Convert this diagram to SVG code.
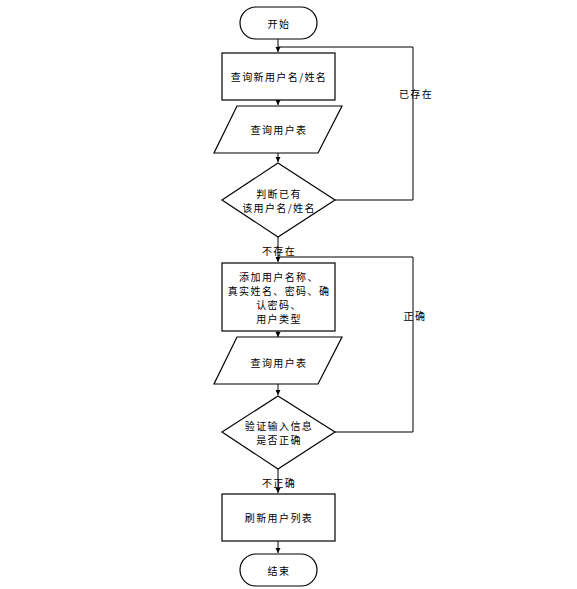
<svg xmlns="http://www.w3.org/2000/svg" width="577" height="589" viewBox="0 0 577 589">
<style>
.s{fill:#fff;stroke:#000;stroke-width:1.2}
.c{fill:none;stroke:#000;stroke-width:1}
text{font-family:"Noto Sans CJK SC","Liberation Sans",sans-serif;font-size:10px;fill:#000;text-anchor:middle;dominant-baseline:central;letter-spacing:1.4px}
</style>
<defs>
<marker id="ah" markerWidth="6" markerHeight="6" refX="5" refY="3" orient="auto" markerUnits="userSpaceOnUse">
<path d="M0,0.5 L5,3 L0,5.5 Z" fill="#000"/>
</marker>
</defs>
<rect width="577" height="589" fill="#fff"/>
<g id="connectors">
<line class="c" x1="278" y1="39" x2="278" y2="52" marker-end="url(#ah)"/>
<line class="c" x1="278" y1="100" x2="278" y2="105" marker-end="url(#ah)"/>
<line class="c" x1="278" y1="153" x2="278" y2="162" marker-end="url(#ah)"/>
<polyline class="c" points="335,200 413,200 413,47 278,47"/>
<line class="c" x1="278" y1="237" x2="278" y2="262" marker-end="url(#ah)"/>
<line class="c" x1="278" y1="331" x2="278" y2="337" marker-end="url(#ah)"/>
<line class="c" x1="278" y1="384" x2="278" y2="395" marker-end="url(#ah)"/>
<polyline class="c" points="335,432 413,432 413,257 278,257"/>
<line class="c" x1="278" y1="469" x2="278" y2="493" marker-end="url(#ah)"/>
<line class="c" x1="278" y1="541" x2="278" y2="553" marker-end="url(#ah)"/>
<text x="416" y="93">已存在</text>
<text x="415" y="315">正确</text>
<text x="279" y="250">不存在</text>
<text x="279" y="482">不正确</text>
</g>
<g id="start">
<rect class="s" x="240" y="7" width="77" height="32" rx="16"/>
<text x="279" y="23">开始</text>
</g>
<g id="query-name">
<rect class="s" x="222" y="53" width="113" height="47"/>
<text x="279" y="76">查询新用户名/姓名</text>
</g>
<g id="query-table-1">
<polygon class="s" points="237,106 342,106 318,153 214,153"/>
<text x="279" y="129">查询用户表</text>
</g>
<g id="check-exists">
<polygon class="s" points="278,163 335,200 278,237 222,200"/>
<text x="279" y="193">判断已有</text>
<text x="279" y="207">该用户名/姓名</text>
</g>
<g id="add-user">
<rect class="s" x="222" y="263" width="113" height="68"/>
<text x="279" y="276">添加用户名称、</text>
<text x="279" y="290">真实姓名、密码、确</text>
<text x="279" y="304">认密码、</text>
<text x="279" y="318">用户类型</text>
</g>
<g id="query-table-2">
<polygon class="s" points="237,337 342,337 318,384 214,384"/>
<text x="279" y="362">查询用户表</text>
</g>
<g id="validate">
<polygon class="s" points="278,396 335,432 278,469 222,432"/>
<text x="279" y="425">验证输入信息</text>
<text x="279" y="439">是否正确</text>
</g>
<g id="refresh">
<rect class="s" x="222" y="494" width="113" height="47"/>
<text x="279" y="517">刷新用户列表</text>
</g>
<g id="end">
<rect class="s" x="240" y="554" width="77" height="32" rx="16"/>
<text x="279" y="570">结束</text>
</g>
</svg>
